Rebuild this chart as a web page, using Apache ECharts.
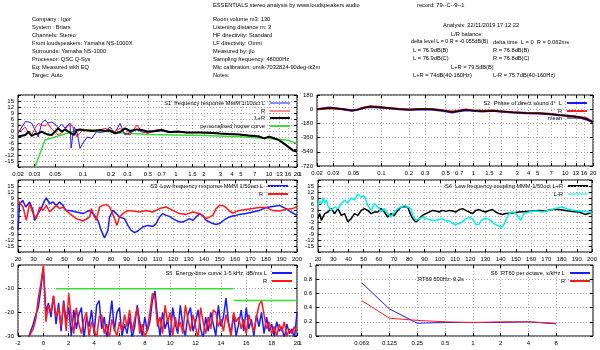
<!DOCTYPE html>
<html>
<head>
<meta charset="utf-8">
<script src="https://cdn.jsdelivr.net/npm/echarts@6/dist/echarts.min.js"></script>
<style>
  * { margin: 0; padding: 0; }
  #container { width: 600px; height: 350px; background: #fff; }
</style>
</head>
<body>
<div id="container"></div>
<script>
// header texts
var titleText = 'ESSENTIALS stereo analysis by www.loudspeakers.audio';
var recordText = 'record: 79--C--9--1';
var infoLeft = ['Company : Igor', 'System : Briars', 'Channels: Stereo', 'Front loudspeakers: Yamaha NS-1000X',
    'Surrounds: Yamaha NS-1000', 'Processor: QSC Q-Sys', 'Eq: Measured with EQ', 'Target: Auto'];
var infoMid = ['Room volume m3: 130', 'Listening distance m: 3', 'HF directivity: Standard', 'LF directivity: Omni',
    'Measured by: jlo', 'Sampling frequency: 48000Hz', 'Mic calibration: umik-7032824-90deg-ik2m', 'Notes:'];

// S1 frequency response 1/10oct (kHz, dB)
var s1Freq = [0.02, 0.022, 0.024, 0.026, 0.028, 0.0305, 0.033, 0.036, 0.039, 0.042, 0.046, 0.05, 0.054, 0.059, 0.064,
    0.067, 0.0725, 0.0745, 0.08, 0.086, 0.093, 0.1, 0.111, 0.124, 0.14, 0.152, 0.172, 0.195, 0.22, 0.25, 0.283, 0.32,
    0.38, 0.43, 0.5, 0.6, 0.7, 0.85, 1.05, 1.3, 1.8, 2.3, 2.9, 3.7, 4.8, 6, 7.9, 8.9, 10, 11.3, 12.7, 14.4, 16, 18.2, 20];
var s1L = [-1, 2, 4.7, 4.5, 4, 0.5, -3, 4, 5.5, 4, 4.5, 3.5, 1.5, 3.5, 1.5, 2, 4, -8.5, 2, -0.3, -8.7, -6, -3, -3.7,
    -0.3, -0.8, -0.3, 2, -1, 3.8, -2, -0.8, 0.8, -0.5, -0.8, -0.3, 0.2, -0.8, -0.5, -0.8, -0.8, -0.9, -1.2, -1.5, -1.7,
    -2.4, -2.7, -3.9, -2.6, -3.6, -4.4, -6, -7.8, -9.6, -10.4];
var s1R = [-0.3, 0.5, 2, -1, -2, 1.3, 3.8, 3, 2.5, 3.8, 1, -0.3, -2, -1, 0.8, 1.8, 3.8, 3.8, 1, -3, -1, 0.5, 0.5, 0.5,
    -0.3, 0.5, 1.3, 0.5, -0.3, 1.3, -1.2, -2, 3, -0.3, -1.2, 0.5, 0.8, -0.8, -0.3, -0.9, -0.7, -1, -1.1, -1.6, -1.8,
    -2.2, -2.9, -3.6, -2.9, -3.5, -4.6, -6.3, -7.9, -9.8, -10.2];
var s1Sum = [-2.8, -2.4, -2, -0.3, -2.5, -1.5, -1.2, -0.3, -1.2, -1.8, -2, -0.3, 1.3, -0.3, 0.8, 0.2, -0.8, -1.5, -2,
    0.5, 0.8, 0.5, 0.2, 0, 0.3, 0.5, 0, 0.2, -1.2, -0.5, 1.3, 0, 0.8, 0.5, -0.3, 0, 0.5, -0.5, -0.3, -0.8, -0.8, -0.9,
    -1.2, -1.5, -1.7, -2.3, -2.8, -3.7, -2.8, -3.6, -4.5, -6.2, -7.8, -9.8, -10.3];
var houseFreq = [0.0305, 0.039, 0.093, 0.152, 0.22, 0.5, 1, 2, 5, 10, 16, 20];
var house = [-18, -4.5, 0.8, 0.2, -0.8, -1.7, -2, -2.3, -2.9, -3.7, -4.6, -6.3];
var kHzTicks = [0.02, 0.03, 0.05, 0.1, 0.2, 0.3, 0.5, 0.7, 1, 1.5, 2, 3, 4, 5, 7, 10, 13, 16, 20];

// S2 phase of direct sound (kHz, degrees)
var s2Freq = [0.02, 0.027, 0.032, 0.0375, 0.048, 0.055, 0.062, 0.067, 0.076, 0.094, 0.12, 0.156, 0.2, 0.28, 0.36,
    0.46, 0.59, 0.67, 0.83, 0.98, 1.26, 1.62, 1.92, 2.68, 3.75, 5.24, 6.73, 8.65, 10.2, 12.1, 14.3, 16.9, 20];
var s2L = [0, 21, 13, 0, -21, -8, 13, 21, 29, 21, 13, 0, -8, 0, -8, -21, -42, -29, -13, -21, -29, -21, -29, -42, -50,
    -55, -63, -76, -80, -90, -105, -130, -168];
var s2R = [0, 8, 8, 4, -13, -4, 13, 25, 38, 30, 15, 4, -4, 4, 4, -13, -30, -21, -4, -13, -21, -17, -25, -38, -46, -50,
    -59, -72, -84, -88, -100, -112, -160];
var s2Mean = [0, 14, 10, 2, -17, -6, 13, 23, 33, 25, 14, 2, -6, 2, -2, -17, -36, -25, -8, -17, -25, -19, -27, -40,
    -48, -52, -61, -74, -82, -89, -103, -121, -164];

// S3 low frequency response 1/50oct (Hz, dB)
var s3LFreq = [20, 21, 23, 25, 27.5, 29.7, 30.7, 31.8, 32.9, 35, 37.2, 38.3, 40.4, 42.6, 44.7, 46.9, 49, 51, 53.3,
    57.6, 61.9, 66.2, 69.4, 71.6, 73.7, 75.8, 78, 79.1, 81.2, 83.4, 85.5, 88.7, 90.9, 93, 95.2, 97.3, 100.5, 103.8,
    107, 109.1, 111.3, 113.4, 115.6, 117.7, 119.9, 122, 124.2, 126.3, 128.5, 130.6, 132.8, 134.9, 137.1, 139.2, 141.4,
    143.5, 145.7, 147.8, 150, 152.1, 154.3, 156.4, 158.5, 160.7, 162.8, 167.1, 171.4, 175.7, 180, 184.3, 188.6, 192.9,
    196.1, 200];
var s3L = [-7, 6, 7.8, 4.5, 7, 2.8, -2.2, -3, 1.2, 3.7, 7.8, 9, 6.2, 7, 5.3, 7, 5.3, 2.8, 2.8, 2, 1.2, 2.8, 0.3, -2.2,
    -7.2, -11, -7.2, -0.5, 2.8, 1.2, -0.5, -1.3, -4.7, -7.2, -8.3, -7.5, -5.5, -4.7, -5.2, -3.8, -0.5, 1.2, 0.3, -0.2,
    -1.3, -2.2, -3, -3, -2.2, -1.3, -2.2, -0.5, 1.2, 0.3, -2.2, -3, -3.8, -4.2, -3.8, -2.5, -1.3, -0.5, 0, 0.3, 0.8,
    1.2, 2, 2.8, 4.2, 4.8, 5.3, 3.7, 2, 0.3];
var s3RFreq = [20, 21.1, 23.2, 25.4, 27.5, 29.7, 31.8, 34, 36.1, 38.3, 40.4, 42.6, 44.7, 46.9, 49, 51.1, 53.3, 57.6,
    61.9, 66.2, 67.3, 69.4, 70.5, 72.6, 74.8, 76.9, 78, 79.1, 80.1, 82.3, 83.8, 85.5, 87.7, 90.9, 94.1, 98.4, 102.7,
    107, 111.3, 115.6, 119.9, 124.2, 128.5, 132.8, 137.1, 141.4, 145.7, 147.8, 150, 152.1, 154.3, 156.4, 158.5, 162.8,
    167.1, 171.4, 175.7, 180, 184.3, 188.6, 192.9, 197.2, 200];
var s3R = [7.8, 8.5, 4.5, -2.2, 6.2, 1.2, -1.3, 4.5, 2.8, 5.3, 2, 3.7, 5.3, 3.7, 4.5, 2.8, 1.2, -1.3, -2.5, -0.5, 3.7,
    -0.5, -2.2, 4.5, 5.3, 5.8, 6.2, 4.5, 2.8, -1.3, -4.7, -0.5, 1.2, 2.8, 2.5, 2, 2.8, 2, 3.7, 4.5, 2.8, 1.2, 0.8, 2,
    1.2, -1.3, 0.3, 3.7, 5.3, 5.3, 4.2, 2.5, 1.5, 2.8, 3.3, 3.7, 4.2, 4.2, 2.8, 2.5, 3.2, 3.8, 4.5];

// S4 low frequency coupling 1/50oct (Hz, dB)
var s4SumFreq = [20, 21.1, 22.2, 24.4, 26.5, 28.7, 30.9, 33.1, 35.3, 37.5, 39.6, 41.8, 44, 46.2, 48.4, 50.5, 52.7,
    54.9, 57.1, 59.3, 61.5, 63.6, 65.8, 68, 70.2, 72.4, 74.6, 76.7, 78.9, 81.1, 82.2, 84.4, 86.6, 88.7, 90.9, 93.1,
    95.3, 97.5, 99.6, 101.8, 104, 106.2, 108.4, 110.6, 112.7, 114.9, 117.1, 119.3, 121.5, 123.6, 125.8, 128, 130.2,
    132.4, 134.6, 136.7, 138.9, 141.1, 143.3, 147.6, 152, 156.4, 160.7, 165.1, 169.5, 173.8, 178.2, 182.6, 186.9,
    191.3, 195.7, 197.8, 200];
var s4Sum = [-1.3, 1.2, -2.2, 1.2, 2, 3.7, 1.2, 3.7, 0.3, 1.2, -3, -1.3, 1.2, 0.3, 2.8, 3.7, 2.8, 1.2, 2, 2, 3.7, 2,
    -0.5, 1.2, 0.3, 2.8, 4.5, 4.8, 4.5, 0.3, -1.3, -3, -1.3, 0.3, 1.2, 2, 2.8, 2.5, 2, 2.8, 2.3, 2.8, 2.5, 2, 3.2, 3.7,
    2.8, 2, 1.2, 2.8, 3.2, 2.5, 2, 2.8, 3.2, 2, 1.2, 0.8, 1.2, 1.5, 2, 2.3, 2.5, 2.8, 2.5, 3.2, 3.3, 2.8, 2.3, 2, 0.8,
    1.2, 2];
var s4DiffFreq = [20, 21.1, 22.2, 23.3, 24.4, 25.5, 26.5, 28.7, 30.9, 33.1, 35.3, 37.5, 39.6, 41.8, 44, 46.2, 48.4,
    50.5, 52.7, 54.9, 57.1, 59.3, 61.5, 63.6, 65.8, 68, 70.2, 72.4, 74.6, 76.7, 78.9, 81.1, 82.2, 84.4, 86.6, 88.7,
    90.9, 93.1, 95.3, 97.5, 99.6, 101.8, 104, 106.2, 108.4, 110.6, 112.7, 114.9, 117.1, 119.3, 121.5, 123.6, 125.8,
    126.9, 129.1, 131.3, 133.5, 135.6, 137.8, 140, 141.5, 143.3, 145.5, 147.6, 149.8, 152, 153.1, 155.3, 158.5, 162.9,
    167.3, 171.6, 176, 180.4, 184.7, 189.1, 193.4, 197.8, 200];
var s4Diff = [5.3, 7.5, 6, 9, 6.5, 8, 5, 2.8, 4.5, 3.7, 6.2, 7.8, 6.5, 9, 8, 11, 9.5, 10, 5.3, 2.8, 6.2, 4.5, 2, 3.7,
    1.2, -0.5, 2, 3.7, 4.5, 5.3, 4.5, 3.7, 0.3, -2.2, -1.3, -0.5, -1.3, -1.8, -2.2, -2.2, -1.8, -1.3, -2.2, -2.5, -3.8,
    -4.2, -3.8, -3, -1.3, -0.8, -1.3, -4.2, -4.2, -2.5, -1.3, -1.3, -2.2, -3.8, -4.7, -5.5, -5.2, -2.2, 1.2, 2, 1.5,
    -0.8, -2.2, 1.2, 2, 2.5, 2, 2.8, 3.7, 4.5, 3.2, 2.8, 2.5, 2, 2];

// S5 energy-time curve 1-5 kHz (ms, dB)
var etcTime = [-1.2, -1, -0.8, -0.6, -0.4, -0.2, 0, 0.2, 0.4, 0.6, 0.8, 1, 1.2, 1.4, 1.6, 1.8, 2, 2.2, 2.4, 2.6, 2.8,
    3, 3.2, 3.4, 3.6, 3.8, 4, 4.2, 4.4, 4.6, 4.8, 5, 5.2, 5.4, 5.6, 5.8, 6, 6.2, 6.4, 6.6, 6.8, 7, 7.2, 7.4, 7.6, 7.8,
    8, 8.2, 8.4, 8.6, 8.8, 9, 9.2, 9.4, 9.6, 9.8, 10, 10.2, 10.4, 10.6, 10.8, 11, 11.2, 11.4, 11.6, 11.8, 12, 12.2,
    12.4, 12.6, 12.8, 13, 13.2, 13.4, 13.6, 13.8, 14, 14.2, 14.4, 14.6, 14.8, 15, 15.2, 15.4, 15.6, 15.8, 16, 16.2,
    16.4, 16.6, 16.8, 17, 17.2, 17.4, 17.6, 17.8, 18, 18.2, 18.4, 18.6, 18.8, 19, 19.2, 19.4, 19.6, 19.8, 20];
var etcL = [-31, -28, -25, -21, -18, -10, -1, -20, -16, -22, -13, -25, -16, -28, -15, -24, -18, -30, -19, -27, -21,
    -18, -31, -22, -26, -19, -29, -17, -15, -27, -22, -31, -24, -15, -28, -20, -18, -30, -25, -29, -22, -31, -26, -17,
    -24, -30, -22, -28, -24, -15, -11, -22, -30, -20, -27, -23, -31, -18, -25, -29, -17, -26, -30, -21, -18, -28, -24,
    -19, -27, -31, -22, -28, -20, -25, -30, -17, -26, -22, -14, -24, -29, -21, -30, -25, -19, -28, -18, -27, -23, -30,
    -21, -26, -20, -29, -22, -28, -25, -30, -24, -28, -26, -31, -25, -29, -27, -31, -20];
var etcR = [-32, -29, -27, -23, -14, -8, 0, -24, -17, -20, -13, -22, -18, -26, -16, -28, -12, -22, -29, -18, -25,
    -29, -23, -20, -30, -24, -27, -31, -22, -21, -29, -25, -31, -23, -27, -30, -24, -28, -21, -26, -19, -28, -23, -18,
    -29, -25, -31, -27, -20, -12, -14, -26, -22, -29, -17, -24, -20, -30, -22, -27, -24, -29, -17, -23, -28, -21, -26,
    -31, -18, -24, -29, -22, -27, -19, -20, -26, -23, -28, -21, -25, -30, -20, -24, -22, -27, -23, -29, -21, -25, -28,
    -22, -17, -15, -21, -27, -24, -29, -26, -30, -25, -28, -24, -30, -27, -29, -26, -28];
var etcTargetA = [[1, -10], [15, -10]];
var etcTargetB = [[15, -15], [20, -15]];

// S6 RT60 per octave (kHz, s)
var rtOct = [0.0625, 0.125, 0.25, 0.5, 1, 2, 4, 8];
var rtOctLabels = ['0.063', '0.125', '0.25', '0.5', '1', '2', '4', '8'];
var rtL = [0.75, 0.38, 0.18, 0.19, 0.19, 0.19, 0.2, 0.17];
var rtR = [0.5, 0.25, 0.22, 0.2, 0.19, 0.2, 0.2, 0.18];

var FONT = '"Liberation Sans", Arial, sans-serif';
var FS = 5.7;

function zip(xs, ys) {
    return xs.map(function (x, i) { return [x, ys[i]]; });
}

function mkAxis(gi, o) {
    var tick = { show: true, inside: true, length: 3, lineStyle: { color: '#000', width: 1 } };
    var label = { color: '#000', fontSize: 6, fontFamily: FONT, margin: 4, showMinLabel: true, showMaxLabel: true };
    if (o.ticks) { tick.customValues = o.ticks; label.customValues = o.ticks; }
    if (o.formatter) label.formatter = o.formatter;
    var ax = {
        gridIndex: gi, type: o.type || 'value', min: o.min, max: o.max,
        axisLine: { show: false, onZero: false }, axisTick: tick, axisLabel: label,
        splitLine: { show: true, lineStyle: { color: '#a8a8a8', width: 1, type: [1, 2] } }
    };
    if (o.interval) ax.interval = o.interval;
    if (o.type === 'log') ax.logBase = 10;
    if (o.position) {
        // mirrored ticks on the opposite border, gnuplot style
        ax.position = o.position;
        ax.axisLabel = { show: false };
        ax.splitLine = { show: false };
        if (o.ticks) ax.axisLabel.customValues = o.ticks;
    }
    return ax;
}

function line(gi, data, color, width) {
    return {
        type: 'line', xAxisIndex: gi, yAxisIndex: gi, data: data,
        symbol: 'none', showSymbol: false, clip: true, silent: true,
        lineStyle: { color: color, width: width }, itemStyle: { color: color }
    };
}

function numFmt(v) { return String(+Number(v).toPrecision(3)); }
function dbFmt(v) { return Math.abs(v) > 15 ? '' : String(v); }
function octFmt(v) {
    for (var i = 0; i < rtOct.length; i++) {
        if (Math.abs(rtOct[i] - v) < 1e-6) return rtOctLabels[i];
    }
    return '';
}

function txt(x, y, s, align, size) {
    return { type: 'text', x: x, y: y, silent: true,
        style: { text: s, fill: '#000', font: (size || FS) + 'px ' + FONT, textAlign: align || 'left', textVerticalAlign: 'middle' } };
}

// legend: text right-aligned, then a short line sample
function legend(xEnd, rows) {
    var out = [];
    rows.forEach(function (r) {
        out.push(txt(xEnd, r[1], r[0], 'right'));
        out.push({ type: 'line', silent: true, shape: { x1: xEnd + 5, y1: r[1], x2: xEnd + 25, y2: r[1] },
            style: { stroke: r[2], lineWidth: r[3] } });
    });
    return out;
}

var BLUE = '#1a1aff', RED = '#ff1a1a', BLACK = '#000', GREEN = '#33e033', CYAN = '#00f0f0';

var graphics = [];
graphics.push(txt(213, 5, titleText));
graphics.push(txt(417, 5, recordText));
infoLeft.forEach(function (s, i) { graphics.push(txt(32, 19 + i * 8, s)); });
infoMid.forEach(function (s, i) { graphics.push(txt(213, 19 + i * 8, s)); });
graphics.push(txt(443, 25, 'Analysis: 22/11/2019 17:12:22'));
graphics.push(txt(451, 34, 'L/R balance:'));
graphics.push(txt(411, 42, 'delta level L = 0 R = -0.055dB(B)', 'left', 5.3));
graphics.push(txt(493, 42, 'delta time  L = 0  R = 0.062ms'));
graphics.push(txt(413, 50, 'L = 76.9dB(B)'));
graphics.push(txt(493, 50, 'R = 76.8dB(B)'));
graphics.push(txt(413, 58, 'L = 76.9dB(C)'));
graphics.push(txt(493, 58, 'R = 76.8dB(C)'));
graphics.push(txt(451, 67, 'L+R = 79.5dB(B)'));
graphics.push(txt(413, 75, 'L+R = 74dB(40-160Hz)'));
graphics.push(txt(493, 75, 'L-R = 75.7dB(40-160Hz)'));
graphics.push(txt(418, 279, 'RT60 500Hz: 0.2s'));
graphics.push(txt(300, 174, '1', 'center'));
graphics.push(txt(300, 343, '1', 'center'));

graphics = graphics.concat(
    legend(265, [['S1  frequency response MMM 1/10oct L', 103, BLUE, 1], ['R', 111, RED, 1],
        ['L+R', 118, BLACK, 2], ['personalised house curve', 126, GREEN, 2]]),
    legend(562, [['S2  Phase of direct sound d°  L', 103, BLUE, 2], ['R', 111, RED, 2], ['mean', 118, BLACK, 1]]),
    legend(263, [['S3  Low frequency response MMM 1/50oct L', 186, BLUE, 2], ['R', 194, RED, 2]]),
    legend(563, [['S4  Low frequency coupling MMM 1/50oct L+R', 186, BLACK, 2], ['L-R', 194, CYAN, 1]]),
    legend(267, [['S5  Energy-time curve 1-5 kHz, dB/ms L', 273, BLUE, 2], ['R', 281, RED, 2]]),
    legend(565, [['S6  RT60 per octave, s/kHz L', 273, BLUE, 2], ['R', 281, RED, 2]])
);

var gridBase = { show: true, borderColor: '#000', borderWidth: 1, backgroundColor: 'transparent', containLabel: false };
var grids = [
    { left: 18, top: 95, width: 279, height: 72 },
    { left: 317, top: 95, width: 276, height: 71 },
    { left: 18, top: 180, width: 279, height: 72 },
    { left: 318, top: 180, width: 275, height: 72 },
    { left: 18, top: 265, width: 279, height: 71 },
    { left: 316, top: 265, width: 277, height: 71 }
].map(function (g) { return Object.assign({}, gridBase, g); });

var xSpec = [
    { type: 'log', min: 0.02, max: 20, ticks: kHzTicks, formatter: numFmt },
    { type: 'log', min: 0.02, max: 20, ticks: kHzTicks, formatter: numFmt },
    { min: 20, max: 200, interval: 10 },
    { min: 20, max: 200, interval: 10 },
    { min: -2, max: 20, interval: 2 },
    { type: 'log', min: 0.02, max: 20, ticks: rtOct, formatter: octFmt }
];
var ySpec = [
    { min: -18, max: 18, interval: 3, formatter: dbFmt },
    { min: -720, max: 180, interval: 180 },
    { min: -18, max: 18, interval: 3, formatter: dbFmt },
    { min: -18, max: 18, interval: 3, formatter: dbFmt },
    { min: -30, max: 0, interval: 10 },
    { min: 0, max: 1, interval: 0.2 }
];
var xAxes = xSpec.map(function (s, i) { return mkAxis(i, Object.assign({ position: null }, s)); });
var yAxes = ySpec.map(function (s, i) { return mkAxis(i, Object.assign({ position: null }, s)); });
xSpec.forEach(function (s, i) { xAxes.push(mkAxis(i, Object.assign({ position: 'top' }, s))); });
ySpec.forEach(function (s, i) { yAxes.push(mkAxis(i, Object.assign({ position: 'right' }, s))); });
xAxes.slice(0, 6).forEach(function (a) { a.position = 'bottom'; });
yAxes.slice(0, 6).forEach(function (a) { a.position = 'left'; });

var series = [
    line(0, zip(houseFreq, house), GREEN, 1.5),
    line(0, zip(s1Freq, s1L), BLUE, 1),
    line(0, zip(s1Freq, s1R), RED, 1),
    line(0, zip(s1Freq, s1Sum), BLACK, 2),
    line(1, zip(s2Freq, s2L), BLUE, 2),
    line(1, zip(s2Freq, s2R), RED, 2),
    line(1, zip(s2Freq, s2Mean), BLACK, 1.5),
    line(2, zip(s3LFreq, s3L), BLUE, 1.5),
    line(2, zip(s3RFreq, s3R), RED, 1.5),
    line(3, zip(s4SumFreq, s4Sum), BLACK, 1.5),
    line(3, zip(s4DiffFreq, s4Diff), CYAN, 1.5),
    line(4, zip(etcTime, etcL), BLUE, 1.5),
    line(4, zip(etcTime, etcR), RED, 1.5),
    line(4, etcTargetA, GREEN, 1.5),
    line(4, etcTargetB, GREEN, 1.5),
    line(5, zip(rtOct, rtL), BLUE, 1),
    line(5, zip(rtOct, rtR), RED, 1)
];

var myChart = echarts.init(document.getElementById('container'));
myChart.setOption({
    animation: false,
    backgroundColor: '#fff',
    grid: grids,
    xAxis: xAxes,
    yAxis: yAxes,
    series: series,
    graphic: { elements: graphics }
});
</script>
</body>
</html>
